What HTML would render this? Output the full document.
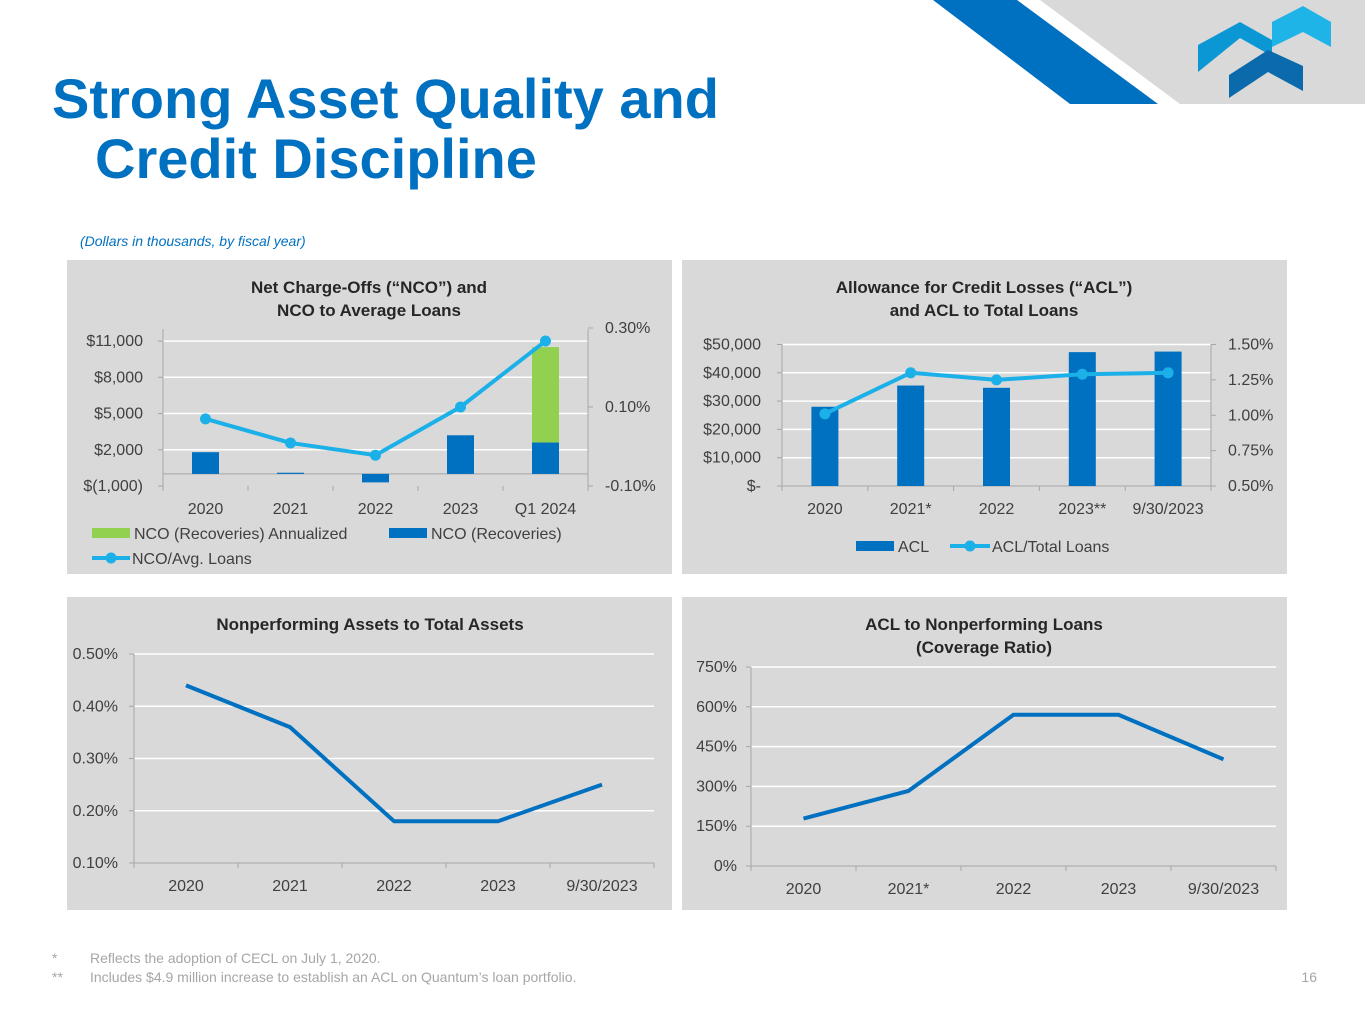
<!DOCTYPE html>
<html><head><meta charset="utf-8"><style>
body{margin:0;background:#fff;width:1365px;height:1024px;overflow:hidden;font-family:"Liberation Sans",Arial,sans-serif}
svg{display:block}
text{font-family:"Liberation Sans",Arial,sans-serif}
</style></head><body>
<svg id="s" width="1365" height="1024" viewBox="0 0 1365 1024">
<polygon points="1040,0 1365,0 1365,104 1180,104" fill="#d9d9d9"/>
<polygon points="933,0 1017,0 1158,104 1070,104" fill="#0070c0"/>
<g>
<polygon points="1272,22 1303,6 1331,22 1331,47 1303,32 1272,47" fill="#1fb4e8"/>
<polygon points="1198,45 1240,22 1272,40 1272,56 1240,38 1198,72" fill="#0b96d4"/>
<polygon points="1229,75 1268,50 1303,66 1303,91 1268,72 1229,98" fill="#0a6aab"/>
</g>
<text x="52" y="118" font-size="56" font-weight="bold" fill="#0070c0">Strong Asset Quality and</text>
<text x="95" y="178" font-size="56" font-weight="bold" fill="#0070c0">Credit Discipline</text>
<text x="80" y="246" font-size="14" font-style="italic" fill="#0070c0">(Dollars in thousands, by fiscal year)</text>
<rect x="67" y="260" width="605" height="314" fill="#d9d9d9"/>
<rect x="682" y="260" width="605" height="314" fill="#d9d9d9"/>
<rect x="67" y="597" width="605" height="313" fill="#d9d9d9"/>
<rect x="682" y="597" width="605" height="313" fill="#d9d9d9"/>
<text x="52" y="963" font-size="14" fill="#a6a6a6">*</text>
<text x="90" y="963" font-size="14" fill="#a6a6a6">Reflects the adoption of CECL on July 1, 2020.</text>
<text x="52" y="982" font-size="14" fill="#a6a6a6">**</text>
<text x="90" y="982" font-size="14" fill="#a6a6a6">Includes $4.9 million increase to establish an ACL on Quantum’s loan portfolio.</text>
<text x="1317" y="982" font-size="14" fill="#a6a6a6" text-anchor="end">16</text>
<g id="g"></g>
</svg>
<script>
// ---- Chart 1: NCO ----
const ncoCats = ["2020","2021","2022","2023","Q1 2024"];
const ncoValues = [1800, 100, -700, 3200, 2600];
const ncoAnnualized = [0, 0, 0, 0, 7900];
const ncoRatio = [0.07, 0.009, -0.022, 0.10, 0.267];
const ncoLeftTicks = [-1000, 2000, 5000, 8000, 11000];
const ncoLeftLabels = ["$(1,000)","$2,000","$5,000","$8,000","$11,000"];
const ncoRightTicks = [-0.10, 0.10, 0.30];
const ncoRightLabels = ["-0.10%","0.10%","0.30%"];
// ---- Chart 2: ACL ----
const aclCats = ["2020","2021*","2022","2023**","9/30/2023"];
const aclValues = [28000, 35500, 34700, 47300, 47500];
const aclRatio = [1.01, 1.30, 1.25, 1.29, 1.30];
const aclLeftTicks = [0, 10000, 20000, 30000, 40000, 50000];
const aclLeftLabels = ["$-","$10,000","$20,000","$30,000","$40,000","$50,000"];
const aclRightTicks = [0.50, 0.75, 1.00, 1.25, 1.50];
const aclRightLabels = ["0.50%","0.75%","1.00%","1.25%","1.50%"];
// ---- Chart 3: NPA ----
const npaCats = ["2020","2021","2022","2023","9/30/2023"];
const npaValues = [0.44, 0.36, 0.18, 0.18, 0.25];
const npaTicks = [0.10, 0.20, 0.30, 0.40, 0.50];
const npaLabels = ["0.10%","0.20%","0.30%","0.40%","0.50%"];
// ---- Chart 4: Coverage ----
const covCats = ["2020","2021*","2022","2023","9/30/2023"];
const covValues = [179, 283, 570, 570, 402];
const covTicks = [0, 150, 300, 450, 600, 750];
const covLabels = ["0%","150%","300%","450%","600%","750%"];

const NS="http://www.w3.org/2000/svg";
const G=document.getElementById('g');
function mk(tag,attrs,parent){const e=document.createElementNS(NS,tag);for(const k in attrs)e.setAttribute(k,attrs[k]);(parent||G).appendChild(e);return e;}
function txt(x,y,s,size,anchor,fill,weight,parent){const t=mk('text',{x:x,y:y,'font-size':size,'text-anchor':anchor||'start',fill:fill||'#404040','font-weight':weight||'normal'},parent);t.textContent=s;return t;}
function lin(d0,d1,r0,r1){return v=>r0+(v-d0)/(d1-d0)*(r1-r0);}
const GRID='#ffffff', AX='#a6a6a6', BLUE='#0070c0', LB='#1cb0e8';

function frame(name,x0,x1,yTop,yBot,n,leftTicks,leftLabels,ly,rightTicks,rightLabels,ry,cats,catY,gap){
  const g=mk('g',{});
  
  
  leftTicks.forEach((t,i)=>{
    const y=ly(t);
    if(i>0){const l=mk('line',{x1:x0,x2:x1,y1:y,y2:y,stroke:GRID,'stroke-width':1.5},g);}
    mk('line',{x1:x0-5,x2:x0,y1:y,y2:y,stroke:AX},g);
    const tt=txt(x0-gap,y+5,leftLabels[i],16,'end','#404040','normal',g);
    
  });
  mk('line',{x1:x0,x2:x0,y1:yTop,y2:yBot,stroke:AX},g);
  if(rightTicks){
    mk('line',{x1:x1,x2:x1,y1:yTop,y2:yBot,stroke:AX},g);
    rightTicks.forEach((t,i)=>{const y=ry(t);mk('line',{x1:x1,x2:x1+5,y1:y,y2:y,stroke:AX},g);
      const tt=txt(x1+17,y+5,rightLabels[i],16,'start','#404040','normal',g);
      });
  }
  const bw=(x1-x0)/n;
  for(let i=0;i<=n;i++){mk('line',{x1:x0+i*bw,x2:x0+i*bw,y1:yBot,y2:yBot+5,stroke:AX},g);}
  cats.forEach((c,i)=>{const tt=txt(x0+bw*(i+0.5),catY,c,16,'middle','#404040','normal',g);
    });
  return {g:g,cx:i=>x0+bw*(i+0.5),bw:bw};
}
function polyline(g,pts,color,w,name,markers){
  const p=mk('polyline',{points:pts.map(p=>p.join(',')).join(' '),fill:'none',stroke:color,'stroke-width':w,'stroke-linejoin':'round'},g);
  
  if(markers)pts.forEach(pt=>{const c=mk('circle',{cx:pt[0],cy:pt[1],r:5.5,fill:color},g);
    });
}

// Chart 1
(function(){
  const x0=163,x1=588,yTop=329,yBot=486;
  const ly=lin(-1000,12000,486,329), ry=lin(-0.10,0.30,486,328);
  txt(369,293,"Net Charge-Offs (“NCO”) and",17,'middle','#262626','bold');
  txt(369,316,"NCO to Average Loans",17,'middle','#262626','bold');
  const f=frame('nco-chart',x0,x1,yTop,yBot,5,ncoLeftTicks,ncoLeftLabels,ly,ncoRightTicks,ncoRightLabels,ry,ncoCats,514,20);
  mk('line',{x1:x0,x2:x1,y1:ly(0),y2:ly(0),stroke:AX},f.g);
  const bw=27;
  ncoValues.forEach((v,i)=>{const y=Math.min(ly(0),ly(v)),h=Math.abs(ly(v)-ly(0));
    const r=mk('rect',{x:f.cx(i)-bw/2,y:y,width:bw,height:h,fill:BLUE},f.g);
    
    if(ncoAnnualized[i]>0){const a=ncoAnnualized[i];
      const r2=mk('rect',{x:f.cx(i)-bw/2,y:ly(v+a),width:bw,height:ly(v)-ly(v+a),fill:'#92d050'},f.g);
      }
  });
  polyline(f.g,ncoRatio.map((v,i)=>[f.cx(i),ry(v)]),LB,4,'line-nco-ratio',true);
  const lg=mk('g',{});
  mk('rect',{x:92,y:528,width:38,height:10,fill:'#92d050'},lg);txt(134,539,"NCO (Recoveries) Annualized",16,'start','#404040','normal',lg);
  mk('rect',{x:389,y:528,width:38,height:10,fill:BLUE},lg);txt(431,539,"NCO (Recoveries)",16,'start','#404040','normal',lg);
  mk('line',{x1:92,x2:130,y1:558,y2:558,stroke:LB,'stroke-width':4},lg);mk('circle',{cx:111,cy:558,r:5.5,fill:LB},lg);
  txt(132,564,"NCO/Avg. Loans",16,'start','#404040','normal',lg);
})();
// Chart 2
(function(){
  const x0=782,x1=1211,yTop=344,yBot=486;
  const ly=lin(0,50000,486,344.5), ry=lin(0.5,1.5,486,344.5);
  txt(984,293,"Allowance for Credit Losses (“ACL”)",17,'middle','#262626','bold');
  txt(984,316,"and ACL to Total Loans",17,'middle','#262626','bold');
  const f=frame('acl-chart',x0,x1,yTop,yBot,5,aclLeftTicks,aclLeftLabels,ly,aclRightTicks,aclRightLabels,ry,aclCats,514,21);
  mk('line',{x1:x0,x2:x1,y1:yBot,y2:yBot,stroke:AX},f.g);
  const bw=27;
  aclValues.forEach((v,i)=>{const r=mk('rect',{x:f.cx(i)-bw/2,y:ly(v),width:bw,height:ly(0)-ly(v),fill:BLUE},f.g);
    });
  polyline(f.g,aclRatio.map((v,i)=>[f.cx(i),ry(v)]),LB,4,'line-acl-ratio',true);
  const lg=mk('g',{});
  mk('rect',{x:856,y:541,width:38,height:10,fill:BLUE},lg);txt(898,552,"ACL",16,'start','#404040','normal',lg);
  mk('line',{x1:950,x2:990,y1:546,y2:546,stroke:LB,'stroke-width':4},lg);mk('circle',{cx:970,cy:546,r:5.5,fill:LB},lg);
  txt(992,552,"ACL/Total Loans",16,'start','#404040','normal',lg);
})();
// Chart 3
(function(){
  const x0=134,x1=654,yTop=654,yBot=863;
  const ly=lin(0.10,0.50,863,654);
  txt(370,630,"Nonperforming Assets to Total Assets",17,'middle','#262626','bold');
  const f=frame('npa-chart',x0,x1,yTop,yBot,5,npaTicks,npaLabels,ly,null,null,null,npaCats,891,16);
  mk('line',{x1:x0,x2:x1,y1:yBot,y2:yBot,stroke:AX},f.g);
  polyline(f.g,npaValues.map((v,i)=>[f.cx(i),ly(v)]),BLUE,4,'line-npa',false);
})();
// Chart 4
(function(){
  const x0=751,x1=1276,yTop=667,yBot=866;
  const ly=lin(0,750,866,667);
  txt(984,630,"ACL to Nonperforming Loans",17,'middle','#262626','bold');
  txt(984,653,"(Coverage Ratio)",17,'middle','#262626','bold');
  const f=frame('coverage-chart',x0,x1,yTop,yBot,5,covTicks,covLabels,ly,null,null,null,covCats,894,14);
  mk('line',{x1:x0,x2:x1,y1:yBot,y2:yBot,stroke:AX},f.g);
  polyline(f.g,covValues.map((v,i)=>[f.cx(i),ly(v)]),BLUE,4,'line-coverage',false);
})();
</script>
</body></html>
